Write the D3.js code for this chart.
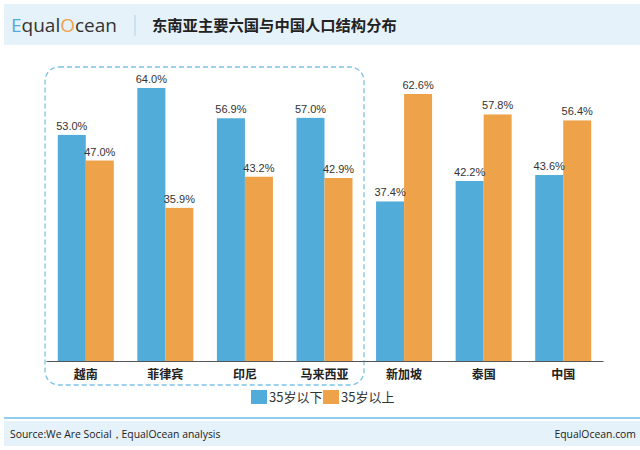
<!DOCTYPE html>
<html><head><meta charset="utf-8">
<script src="https://cdn.jsdelivr.net/npm/d3@7"></script>
<style>
html,body{margin:0;padding:0;background:#fff;}
svg{display:block;}
</style></head>
<body>
<svg id="chart" width="640" height="450"></svg>
<script>
const categories = ["越南","菲律宾","印尼","马来西亚","新加坡","泰国","中国"];
const under35 = [53.0, 64.0, 56.9, 57.0, 37.4, 42.2, 43.6];
const over35 = [47.0, 35.9, 43.2, 42.9, 62.6, 57.8, 56.4];
const seriesNames = ["35岁以下","35岁以上"];
const colors = ["#52acd9","#eea34b"];

const svg = d3.select("#chart");
const cjk = "'Noto Sans CJK SC','Noto Sans',sans-serif";

// header band
svg.append("rect").attr("x",4).attr("y",4).attr("width",636).attr("height",41).attr("fill","#e6f2f9");
const logo = svg.append("text").attr("x",11).attr("y",32).attr("font-family","'Open Sans','Noto Sans',sans-serif")
  .attr("font-size",19).attr("font-weight",400).attr("fill","#333");
logo.append("tspan").attr("fill","#52acd9").text("E");
logo.append("tspan").text("qual");
logo.append("tspan").attr("fill","#eea34b").text("O");
logo.append("tspan").text("cean");
svg.append("line").attr("x1",135).attr("x2",135).attr("y1",15).attr("y2",36).attr("stroke","#b7d7ea").attr("stroke-width",1.2);
svg.append("text").attr("x",152).attr("y",31).attr("font-family",cjk).attr("font-size",15.3).attr("font-weight",700)
  .attr("fill","#222").text("东南亚主要六国与中国人口结构分布");

// scales
const x0 = d3.scaleBand().domain(categories).range([46,603]).paddingInner(0.296).paddingOuter(0.148);
const x1 = d3.scaleBand().domain(seriesNames).range([0,x0.bandwidth()]);
const y = d3.scaleLinear().domain([0,64]).range([361,88]);

// dashed highlight box
svg.append("rect").attr("x",45).attr("y",67).attr("width",319).attr("height",318).attr("rx",14).attr("ry",14)
  .attr("fill","none").attr("stroke","#7cc3e8").attr("stroke-width",1.3).attr("stroke-dasharray","5,3");

const data = categories.map((c,i)=>({cat:c, vals:[under35[i], over35[i]]}));
const g = svg.append("g");
const groups = g.selectAll("g.grp").data(data).join("g").attr("transform",d=>`translate(${x0(d.cat)},0)`);
groups.selectAll("rect").data(d=>d.vals.map((v,j)=>({v,j}))).join("rect")
  .attr("x",d=>x1(seriesNames[d.j])).attr("width",x1.bandwidth())
  .attr("y",d=>y(d.v)).attr("height",d=>y(0)-y(d.v)).attr("fill",d=>colors[d.j]);
groups.selectAll("text").data(d=>d.vals.map((v,j)=>({v,j}))).join("text")
  .attr("x",d=>x1(seriesNames[d.j])+x1.bandwidth()/2).attr("y",d=>y(d.v)-5)
  .attr("text-anchor","middle").attr("font-family","'Liberation Sans',Arial,sans-serif").attr("font-size",11)
  .attr("fill","#333").text(d=>d.v.toFixed(1)+"%");

// axis
const axis = svg.append("g").attr("transform","translate(0,361)")
  .call(d3.axisBottom(x0).tickSize(0).tickPadding(9));
axis.select(".domain").attr("stroke","#555").attr("stroke-width",1);
axis.selectAll("text").attr("font-family",cjk).attr("font-size",12).attr("font-weight",700).attr("fill","#222");

// legend
const legend = svg.append("g").attr("transform","translate(251,390)");
const lx = [0, 72];
seriesNames.forEach((n,i)=>{
  legend.append("rect").attr("x",lx[i]).attr("y",0).attr("width",16).attr("height",14).attr("fill",colors[i]);
  legend.append("text").attr("x",lx[i]+18).attr("y",12).attr("font-family",cjk).attr("font-size",13)
    .attr("fill","#333").text(n);
});

// footer
svg.append("rect").attr("x",4).attr("y",421).attr("width",636).attr("height",25).attr("fill","#e6f2f9");
svg.append("line").attr("x1",4).attr("x2",640).attr("y1",418).attr("y2",418).attr("stroke","#6bbbe4").attr("stroke-width",1.6);
svg.append("text").attr("x",10).attr("y",438).attr("font-family","'Open Sans','Noto Sans',sans-serif").attr("font-size",10.4)
  .attr("fill","#222").text("Source:We Are Social，EqualOcean analysis");
svg.append("text").attr("x",636).attr("y",438).attr("text-anchor","end").attr("font-family","'Open Sans','Noto Sans',sans-serif").attr("font-size",10.4)
  .attr("fill","#222").text("EqualOcean.com");
</script>
</body></html>
